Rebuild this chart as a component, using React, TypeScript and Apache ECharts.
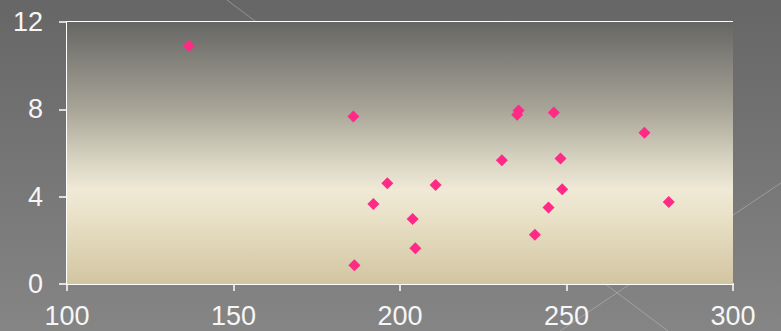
import React, { useEffect, useRef } from "react";
import * as echarts from "echarts";

// Scatter samples: x and y values, pairwise
const xValues = [136.6, 186.0, 196.2, 210.7, 192.0, 203.8, 204.6, 186.3, 230.6, 235.2, 235.6, 246.2, 273.4, 248.2, 248.7, 244.6, 240.5, 280.7];
const yValues = [10.9, 7.67, 4.62, 4.54, 3.66, 2.98, 1.64, 0.86, 5.67, 7.75, 7.95, 7.85, 6.93, 5.75, 4.34, 3.5, 2.26, 3.76];

const xTicks = { min: 100, max: 300, interval: 50 };
const yTicks = { min: 0, max: 12, interval: 4 };

export default function App() {
  const ref = useRef<HTMLDivElement>(null);

  useEffect(() => {
    if (!ref.current) return;
    const chart = echarts.init(ref.current, undefined, { renderer: "svg" });
    const points = xValues.map((x, i) => [x, yValues[i]]);
    const labelFont = {
      color: "#f6f6f6",
      fontSize: 27,
      fontFamily: "'Liberation Sans Narrow', 'Liberation Sans', sans-serif",
    };

    chart.setOption({
      animation: false,
      backgroundColor: {
        type: "linear",
        x: 0, y: 0, x2: 0, y2: 1,
        colorStops: [
          { offset: 0, color: "#666666" },
          { offset: 1, color: "#858585" },
        ],
      },
      graphic: [
        {
          type: "line",
          z: -1,
          silent: true,
          shape: { x1: 227, y1: 0, x2: 668, y2: 331 },
          style: { stroke: "rgba(200,200,200,0.45)", lineWidth: 1 },
        },
        {
          type: "line",
          z: -1,
          silent: true,
          shape: { x1: 560, y1: 331, x2: 781, y2: 183 },
          style: { stroke: "rgba(200,200,200,0.45)", lineWidth: 1 },
        },
      ],
      grid: {
        left: 67,
        right: 48,
        top: 22,
        bottom: 47,
        show: true,
        borderWidth: 0,
        z: 2,
        backgroundColor: {
          type: "linear",
          x: 0, y: 0, x2: 0, y2: 1,
          colorStops: [
            { offset: 0, color: "#666664" },
            { offset: 0.33, color: "#a7a497" },
            { offset: 0.52, color: "#d6d2c0" },
            { offset: 0.64, color: "#efe9d6" },
            { offset: 0.72, color: "#ebe3cb" },
            { offset: 1, color: "#d2c5a1" },
          ],
        },
      },
      xAxis: {
        type: "value",
        min: xTicks.min,
        max: xTicks.max,
        interval: xTicks.interval,
        axisLine: { show: true, lineStyle: { color: "#ffffff", width: 2 } },
        axisTick: { show: true, length: 7, lineStyle: { color: "#ffffff", width: 1.5 } },
        splitLine: { show: false },
        axisLabel: { ...labelFont, margin: 18 },
      },
      yAxis: {
        type: "value",
        min: yTicks.min,
        max: yTicks.max,
        interval: yTicks.interval,
        axisLine: { show: true, lineStyle: { color: "#ffffff", width: 2 } },
        axisTick: { show: true, length: 8, lineStyle: { color: "#ffffff", width: 1.5 } },
        splitLine: { show: true, lineStyle: { color: "#ffffff", width: 2 } },
        axisLabel: { ...labelFont, margin: 24 },
      },
      series: [
        {
          type: "scatter",
          data: points,
          symbol: "diamond",
          symbolSize: 12,
          itemStyle: { color: "#ff2a86", opacity: 1 },
          z: 5,
        },
      ],
    });

    return () => chart.dispose();
  }, []);

  return (
    <div
      ref={ref}
      style={{ position: "fixed", left: 0, top: 0, width: 781, height: 331 }}
    />
  );
}
